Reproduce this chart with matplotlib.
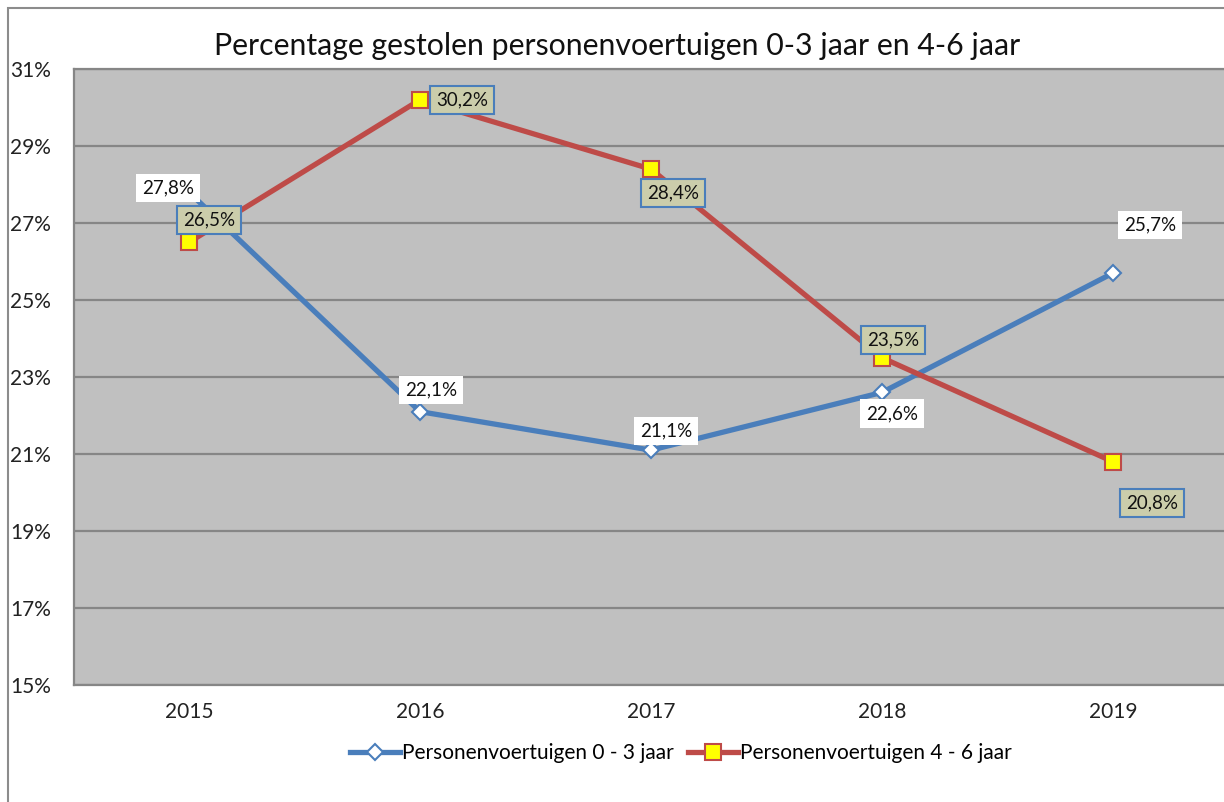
import matplotlib.pyplot as plt
from matplotlib.patches import Rectangle

years = ["2015", "2016", "2017", "2018", "2019"]
young = [27.8, 22.1, 21.1, 22.6, 25.7]
older = [26.5, 30.2, 28.4, 23.5, 20.8]
yticks = [15, 17, 19, 21, 23, 25, 27, 29, 31]

# label offsets in pixels relative to each point
young_offsets = [(-21, 4), (11, 22), (15, 19), (10, -21), (37, 48)]
older_offsets = [(20, 22), (42, 0), (22, -24), (11, 18), (39, -41)]

blue = "#4A7EBB"
red = "#BE4B48"
grid = "#868686"

plt.rcParams["font.family"] = ["Lato", "DejaVu Sans"]

fig = plt.figure(figsize=(12.24, 8.02), dpi=100)
W, H = 1224, 802
# plot area runs slightly past the right edge of the picture
ax = fig.add_axes([73.5 / W, 1 - 685 / H, 1155 / W, 616 / H])

# outer chart border (only top and left are visible)
fig.patches.append(Rectangle((8 / W, -0.1), 1.2, (1 - 8 / H) + 0.1,
                             transform=fig.transFigure, fill=False,
                             edgecolor="#8c8c8c", linewidth=1.5))

x = list(range(len(years)))
ax.set_facecolor("#C0C0C0")
ax.set_xlim(-0.5, len(years) - 0.5)
ax.set_ylim(15, 31)
ax.set_yticks(yticks)
ax.set_yticklabels([f"{v}%" for v in yticks])
ax.set_xticks(x)
ax.set_xticklabels(years)
ax.yaxis.grid(True, color=grid, linewidth=1.6)
ax.set_axisbelow(True)
for side in ["top", "left", "bottom"]:
    ax.spines[side].set_color(grid)
    ax.spines[side].set_linewidth(1.6)
ax.spines["right"].set_visible(False)
ax.tick_params(axis="both", length=0, labelsize=15, colors="#222222")
ax.tick_params(axis="y", pad=16)
ax.tick_params(axis="x", pad=12)

ax.plot(x, young, color=blue, linewidth=3.8, marker="D", markersize=8.5,
        markerfacecolor="white", markeredgecolor=blue, markeredgewidth=1.5,
        label="Personenvoertuigen 0 - 3 jaar", zorder=3)
ax.plot(x, older, color=red, linewidth=3.8, marker="s", markersize=12,
        markerfacecolor="#FFFF00", markeredgecolor=red, markeredgewidth=1.5,
        label="Personenvoertuigen 4 - 6 jaar", zorder=3)

for xi, v, off in zip(x, young, young_offsets):
    ax.annotate(f"{v:.1f}%".replace(".", ","), (xi, v), xytext=off,
                textcoords="offset pixels", ha="center", va="center",
                fontsize=13.5, color="#111111", zorder=5,
                bbox=dict(boxstyle="square,pad=0.3", facecolor="white",
                          edgecolor="none"))
for xi, v, off in zip(x, older, older_offsets):
    ax.annotate(f"{v:.1f}%".replace(".", ","), (xi, v), xytext=off,
                textcoords="offset pixels", ha="center", va="center",
                fontsize=13.5, color="#111111", zorder=6,
                bbox=dict(boxstyle="square,pad=0.3", facecolor="#CBCDAB",
                          edgecolor=blue, linewidth=1.5))

fig.text(617 / W, 1 - 46 / H, "Percentage gestolen personenvoertuigen 0-3 jaar en 4-6 jaar",
         ha="center", va="center", fontsize=21.8, color="#111111")

fig.legend(loc="center", bbox_to_anchor=(681 / W, 1 - 753 / H), ncol=2,
           frameon=False, fontsize=15, handlelength=2.4, handletextpad=0.1,
           columnspacing=0.7)

fig.savefig("out.png", dpi=100, facecolor="white")
